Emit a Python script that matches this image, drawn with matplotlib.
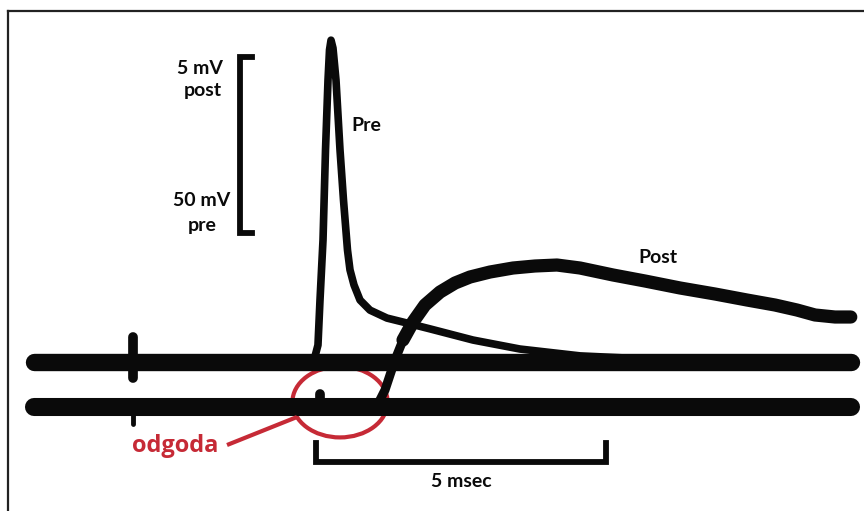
"""
Oscilloscope-style recreation: presynaptic spike (upper trace) and delayed
postsynaptic potential (lower trace), with scale bars and the synaptic delay marked.
"""

import matplotlib.pyplot as plt
from matplotlib.lines import Line2D
from matplotlib.patches import Ellipse

# time in msec, pre trace in mV (pre scale)
pre_t = [-4.86, -0.10, -0.02, 0.034, 0.069, 0.121, 0.164, 0.207, 0.233, 0.259,
         0.293, 0.345, 0.414, 0.474, 0.543, 0.586, 0.655, 0.759, 0.931, 1.224,
         1.50, 1.966, 2.707, 3.517, 4.552, 5.759, 9.22]
pre_v = [0.0, 0.0, 1.4, 4.7, 17.2, 33.9, 58.9, 78.3, 86.7, 89.4,
         87.2, 78.3, 58.9, 45.0, 31.1, 25.6, 21.4, 17.2, 14.4, 12.2,
         11.1, 9.2, 6.1, 3.6, 1.7, 0.8, 0.3]

# post trace in mV (post scale, 10x the pre gain)
post_t = [1.017, 1.103, 1.190, 1.276, 1.362, 1.50, 1.672, 1.879, 2.138, 2.397,
          2.655, 3.0, 3.397, 3.776, 4.155, 4.552, 5.121, 5.672, 6.276, 6.879,
          7.431, 7.914, 8.293, 8.603, 8.948, 9.22]
post_v = [0.0, 0.194, 0.472, 0.889, 1.306, 1.861, 2.361, 2.833, 3.194, 3.444,
          3.611, 3.75, 3.861, 3.917, 3.944, 3.861, 3.667, 3.5, 3.306, 3.139,
          2.972, 2.833, 2.694, 2.556, 2.5, 2.5]

sweep_start, sweep_end = -4.86, 9.22
artifact_t = -3.15      # stimulus artifact
post_blip_t = 0.07      # small blip on post trace at the pre spike
post_gain = 10.0        # 5 mV post == 50 mV pre
post_offset = -12.5     # lower trace baseline, in pre-mV units
n_rise = 7              # post points on the fast rising edge (drawn thinner)

red = '#c62a36'
ink = '#0a0a0a'
font = ['Lato', 'DejaVu Sans']

fig = plt.figure(figsize=(8.64, 5.11), dpi=100)
ax = fig.add_axes([0, 0, 1, 1])
ax.set_xlim(-5.448, 9.448)
ax.set_ylim(-41.39, 100.56)
ax.axis('off')

# baselines (many overlaid sweeps -> thick)
ax.plot([sweep_start, sweep_end], [0, 0], color=ink, lw=12.5, solid_capstyle='round')
ax.plot([sweep_start, sweep_end], [post_offset, post_offset], color=ink, lw=13,
        solid_capstyle='round')

# stimulus artifact
ax.plot([artifact_t, artifact_t], [-4.5, 7.0], color=ink, lw=7, solid_capstyle='round')
ax.plot([artifact_t, artifact_t], [post_offset, -17.3], color=ink, lw=3.5,
        solid_capstyle='round')
ax.plot([post_blip_t, post_blip_t], [post_offset, -8.8], color=ink, lw=7,
        solid_capstyle='round')

# pre spike
ax.plot(pre_t, pre_v, color=ink, lw=5.5, solid_capstyle='round', solid_joinstyle='round')

# post potential: thin on the fast rise, heavy on the slow part
post_y = [v * post_gain + post_offset for v in post_v]
ax.plot(post_t[:n_rise], post_y[:n_rise], color=ink, lw=6.5, solid_capstyle='round',
        solid_joinstyle='round')
ax.plot(post_t[n_rise - 2:], post_y[n_rise - 2:], color=ink, lw=9.5,
        solid_capstyle='round', solid_joinstyle='round')

# vertical scale bar
ax.plot([-1.10, -1.31, -1.31, -1.10], [84.7, 84.7, 35.8, 35.8], color=ink, lw=4.2,
        solid_joinstyle='miter')
txt = dict(color=ink, fontsize=14, fontweight='bold', family=font)
ax.text(-1.60, 81.6, '5 mV', ha='right', va='center', **txt)
ax.text(-1.62, 75.3, 'post', ha='right', va='center', **txt)
ax.text(-1.48, 45.0, '50 mV', ha='right', va='center', **txt)
ax.text(-1.72, 38.0, 'pre', ha='right', va='center', **txt)

# horizontal scale bar
ax.plot([0, 0, 5, 5], [-22.5, -27.8, -27.8, -22.5], color=ink, lw=4.2,
        solid_joinstyle='miter')
ax.text(2.50, -33.2, '5 msec', ha='center', va='center', **txt)

ax.text(0.86, 65.8, 'Pre', ha='center', va='center', **txt)
ax.text(5.90, 28.9, 'Post', ha='center', va='center', **txt)

# synaptic delay marker
ax.add_patch(Ellipse((0.414, -11.1), 1.64, 19.7, fill=False, edgecolor=red, lw=3))
ax.plot([-1.534, -0.328], [-23.06, -15.28], color=red, lw=3, solid_capstyle='butt')
ax.text(-2.43, -25.0, 'odgoda', ha='center', va='baseline', color=red,
        fontsize=17, fontweight='bold', family=['Open Sans', 'DejaVu Sans'])

# frame (top and left edges only)
fig.add_artist(Line2D([8 / 864, 1], [1 - 11 / 511] * 2, color='#222222', lw=1.6))
fig.add_artist(Line2D([8 / 864] * 2, [0, 1 - 11 / 511], color='#222222', lw=1.6))

fig.savefig('out.png', dpi=100)
